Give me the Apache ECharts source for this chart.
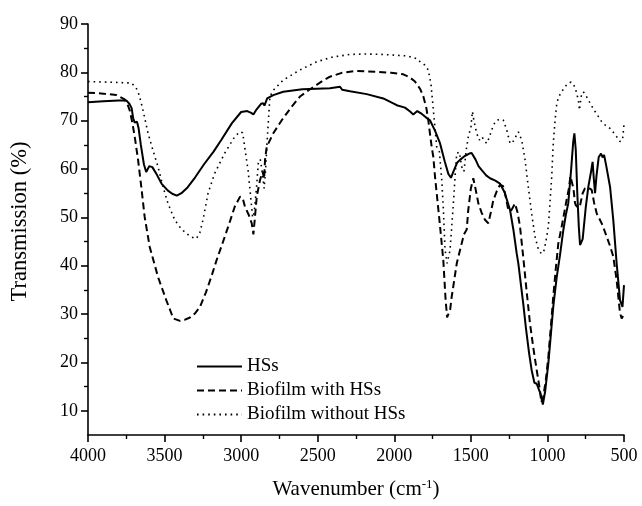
<!DOCTYPE html>
<html>
<head>
<meta charset="utf-8">
<script src="https://cdn.jsdelivr.net/npm/echarts@6/dist/echarts.min.js"></script>
<style>
  html, body { margin: 0; padding: 0; background: #fff; }
  #chart { width: 642px; height: 506px; }
</style>
</head>
<body>
<div id="chart"></div>
<script>
// ---- data ----
const seriesNames = ['HSs', 'Biofilm with HSs', 'Biofilm without HSs'];

const hssWave = [4000,3900,3800,3750,3730,3715,3705,3695,3680,3670,3655,3635,3620,3600,3580,3550,3520,3480,3450,3420,3390,3350,3300,3240,3180,3130,3060,3000,2960,2935,2920,2900,2870,2855,2848,2830,2790,2725,2600,2507,2420,2354,2340,2289,2180,2072,2000,1984,1930,1897,1876,1850,1820,1790,1767,1735,1701,1670,1647,1630,1610,1590,1571,1540,1510,1495,1470,1450,1429,1400,1375,1340,1310,1280,1244,1222,1201,1190,1157,1140,1120,1103,1085,1070,1060,1045,1030,1015,994,962,940,918,896,880,864,845,832,824,815,805,795,787,778,770,750,733,715,705,697,689,680,665,650,640,630,615,591,570,548,526,510,505,500];
const hssT    = [73.8,74.0,74.2,74.2,73.5,72.6,70.5,69.6,69.8,68.5,65.0,61.0,59.4,60.6,60.4,58.8,57.0,55.6,54.9,54.5,55.0,56.2,58.3,61.1,63.6,66.0,69.5,71.8,72.0,71.6,71.3,72.3,73.5,73.6,73.1,74.6,75.3,76.0,76.5,76.6,76.7,77.0,76.4,76.1,75.5,74.6,73.5,73.2,72.7,71.9,71.3,72.0,71.4,70.6,70.1,68.0,65.3,61.5,59.0,58.2,59.8,61.3,61.9,62.7,63.2,63.3,62.0,60.6,59.8,58.7,58.1,57.6,57.0,55.2,51.5,47.4,42.6,40.5,31.9,27.0,22.0,18.4,15.8,15.6,15.8,13.5,11.3,14.0,19.8,31.5,37.5,42.2,47.4,50.5,52.9,60.0,65.5,67.4,64.0,55.0,48.0,44.3,44.0,45.5,52.0,56.3,59.5,61.5,58.0,55.0,58.5,62.5,63.2,62.4,62.9,60.5,56.3,49.5,40.5,32.9,31.5,31.2,36.0];

const withWave = [4000,3900,3815,3760,3740,3728,3710,3695,3673,3652,3630,3597,3543,3489,3443,3400,3370,3334,3300,3269,3230,3195,3160,3130,3080,3042,3007,2990,2975,2950,2931,2920,2910,2898,2877,2860,2850,2844,2833,2790,2735,2670,2616,2550,2507,2460,2420,2343,2245,2180,2115,2020,1941,1900,1865,1830,1810,1790,1778,1756,1745,1734,1723,1701,1680,1665,1655,1645,1635,1625,1592,1571,1545,1527,1517,1500,1484,1470,1451,1430,1408,1386,1370,1353,1330,1310,1290,1277,1255,1235,1212,1195,1179,1157,1135,1114,1092,1070,1050,1040,1027,1010,994,980,962,945,929,907,890,875,860,850,842,830,820,814,800,787,770,755,735,711,695,678,662,646,630,613,590,570,548,526,515,505,500];
const withT    = [75.8,75.6,75.3,74.4,73.2,72.2,69.5,66.7,61.9,56.3,50.1,43.9,37.7,32.9,29.1,28.6,28.8,29.3,30.2,31.5,34.5,37.7,41.2,43.9,48.5,52.2,54.3,54.0,52.2,50.5,48.8,46.5,50.0,54.3,57.7,59.5,58.0,61.9,64.6,67.4,70.1,72.9,75.0,76.5,77.4,78.4,79.1,79.9,80.3,80.2,80.1,79.9,79.6,79.0,78.1,76.5,75.0,72.5,70.1,64.6,62.5,58.4,55.0,48.1,41.2,33.0,29.3,29.2,31.0,33.6,40.5,43.2,46.5,47.5,51.5,56.0,58.1,56.0,52.9,51.0,49.5,48.8,51.0,53.6,55.5,56.7,56.5,55.0,51.5,51.5,52.9,51.0,48.1,41.5,34.5,28.1,23.0,18.4,14.5,11.8,12.9,16.5,21.2,26.5,33.6,39.5,44.6,48.1,51.0,53.6,56.0,58.5,58.4,56.0,53.0,52.5,52.0,52.5,55.0,56.0,56.2,55.7,53.0,50.8,49.8,48.8,47.5,46.0,44.0,41.9,37.0,30.2,29.1,29.5,30.0];

const withoutWave = [4000,3900,3800,3717,3690,3673,3655,3641,3608,3576,3543,3510,3478,3434,3400,3369,3330,3293,3270,3249,3216,3173,3107,3042,3009,2990,2977,2955,2940,2925,2915,2900,2888,2875,2860,2850,2840,2830,2812,2790,2725,2616,2507,2398,2289,2180,2072,1919,1850,1832,1800,1778,1760,1745,1723,1705,1690,1680,1669,1655,1636,1614,1600,1592,1575,1560,1545,1530,1515,1500,1490,1480,1462,1445,1429,1397,1380,1364,1345,1331,1305,1288,1266,1244,1228,1212,1190,1168,1146,1125,1103,1081,1060,1040,1025,1010,994,972,962,950,939,925,907,875,860,845,835,820,808,798,791,780,766,750,733,710,689,666,646,620,591,570,548,526,510,500];
const withoutT    = [78.1,78.0,77.9,77.8,77.0,76.0,74.0,72.2,67.4,63.9,60.5,56.3,52.9,49.5,48.0,47.0,46.0,45.6,46.8,49.5,55.0,59.1,63.3,66.7,67.7,67.5,64.6,59.8,55.0,50.0,51.0,56.0,61.2,62.0,59.0,56.0,60.0,66.0,75.0,76.3,78.4,80.5,82.2,83.2,83.7,83.8,83.7,83.4,82.8,82.2,81.5,80.5,77.5,72.2,64.6,63.5,57.7,52.0,43.5,40.5,43.2,52.9,60.0,63.3,63.5,60.5,59.5,64.0,67.0,68.5,71.9,70.0,67.4,66.0,66.7,65.3,66.5,68.1,69.5,70.1,70.3,70.1,68.1,65.3,65.5,66.4,67.7,66.0,61.9,56.3,50.8,46.0,43.5,42.5,42.8,45.0,48.1,58.4,65.3,70.1,73.6,75.0,76.0,77.4,77.8,78.0,77.8,77.0,75.5,74.3,72.2,75.0,76.0,75.3,74.3,73.0,71.9,70.8,69.8,69.0,68.4,67.6,66.7,65.7,66.0,69.1];

const yMajorTicks = [10,20,30,40,50,60,70,80,90];
const yMinorTicks = [15,25,35,45,55,65,75,85];

// ---- chart ----
const pair = (w, t) => w.map((x, i) => [x, t[i]]);
const font = 'Liberation Serif, Times New Roman, serif';
const chart = echarts.init(document.getElementById('chart'), null, { renderer: 'canvas' });

const lineCommon = { type: 'line', symbol: 'none', showSymbol: false, animation: false, smooth: false };

chart.setOption({
  animation: false,
  backgroundColor: '#fff',
  grid: { left: 88, right: 18, top: 24, bottom: 71 },
  legend: {
    data: seriesNames,
    orient: 'vertical',
    left: 196,
    top: 357,
    itemWidth: 45,
    itemHeight: 14,
    itemGap: 5,
    padding: 0,
    itemStyle: { opacity: 0 },
    textStyle: { fontFamily: font, fontSize: 19, color: '#000' }
  },
  xAxis: {
    type: 'value',
    inverse: true,
    min: 500,
    max: 4000,
    interval: 500,
    name: '{a|Wavenumber (cm}{s|-1}{a|)}',
    nameLocation: 'middle',
    nameGap: 43,
    nameTextStyle: {
      rich: {
        a: { fontFamily: font, fontSize: 21, color: '#000' },
        s: { fontFamily: font, fontSize: 13, color: '#000', verticalAlign: 'top', padding: [0, 0, 10, 0] }
      }
    },
    axisLine: { lineStyle: { color: '#000', width: 1.6 } },
    axisTick: { length: 7, lineStyle: { color: '#000', width: 1.6 } },
    minorTick: { show: true, splitNumber: 2, length: 4, lineStyle: { color: '#000', width: 1.4 } },
    splitLine: { show: false },
    minorSplitLine: { show: false },
    axisLabel: { fontFamily: font, fontSize: 18, color: '#000', margin: 12, formatter: v => String(v) }
  },
  yAxis: [
    {
      type: 'value',
      min: 5,
      max: 90,
      name: 'Transmission (%)',
      nameLocation: 'middle',
      nameGap: 56,
      nameTextStyle: { fontFamily: font, fontSize: 22.5, color: '#000', padding: [0, 0, 0, 16] },
      axisLine: { show: true, lineStyle: { color: '#000', width: 1.6 } },
      axisTick: { show: true, length: 7, customValues: yMajorTicks, lineStyle: { color: '#000', width: 1.6 } },
      axisLabel: { customValues: yMajorTicks, fontFamily: font, fontSize: 18, color: '#000', margin: 10 },
      splitLine: { show: false }
    },
    {
      type: 'value',
      min: 5,
      max: 90,
      position: 'left',
      axisLine: { show: false },
      axisTick: { show: true, length: 4, customValues: yMinorTicks, lineStyle: { color: '#000', width: 1.4 } },
      axisLabel: { show: false },
      splitLine: { show: false }
    }
  ],
  series: [
    Object.assign({}, lineCommon, {
      name: seriesNames[0], data: pair(hssWave, hssT),
      lineStyle: { color: '#000', width: 2, type: 'solid' }, itemStyle: { color: '#000' }
    }),
    Object.assign({}, lineCommon, {
      name: seriesNames[1], data: pair(withWave, withT),
      lineStyle: { color: '#000', width: 2, type: [7, 4] }, itemStyle: { color: '#000' }
    }),
    Object.assign({}, lineCommon, {
      name: seriesNames[2], data: pair(withoutWave, withoutT),
      lineStyle: { color: '#000', width: 1.6, type: [1.6, 4] }, itemStyle: { color: '#000' }
    })
  ]
});
</script>
</body>
</html>
